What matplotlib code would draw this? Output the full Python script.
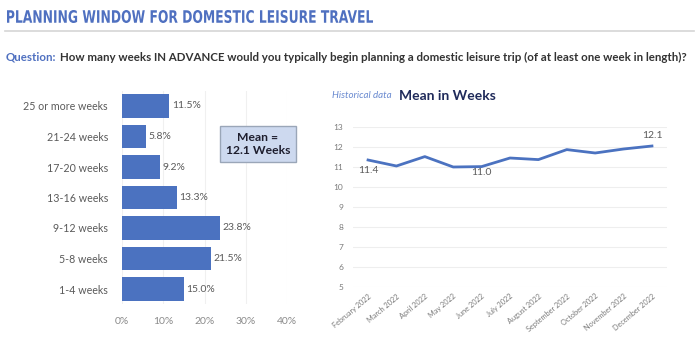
import matplotlib
matplotlib.use("Agg")
import matplotlib.pyplot as plt
from matplotlib.patches import Rectangle, PathPatch
from matplotlib.lines import Line2D
from matplotlib.textpath import TextPath
from matplotlib.font_manager import FontProperties
from matplotlib.transforms import Affine2D, IdentityTransform

# bar chart data
categories = ["1-4 weeks", "5-8 weeks", "9-12 weeks", "13-16 weeks",
              "17-20 weeks", "21-24 weeks", "25 or more weeks"]
shares = [15.0, 21.5, 23.8, 13.3, 9.2, 5.8, 11.5]

# historical mean data
months = ["February 2022", "March 2022", "April 2022", "May 2022", "June 2022",
          "July 2022", "August 2022", "September 2022", "October 2022",
          "November 2022", "December 2022"]
mean_weeks = [11.35, 11.05, 11.52, 11.0, 11.02, 11.45, 11.37, 11.87, 11.7, 11.9, 12.05]

blue = "#4b72c0"
grey = "#5a5a5a"
plt.rcParams["font.family"] = ["Lato", "DejaVu Sans"]

fig = plt.figure(figsize=(7, 3.51), dpi=100)
W, H = 700, 351

def fx(px):
    return px / W

def fy(py):
    return 1 - py / H

# title, squeezed horizontally to look like a condensed font
title = "PLANNING WINDOW FOR DOMESTIC LEISURE TRAVEL"
tp = TextPath((0, 0), title, size=18,
              prop=FontProperties(family="DejaVu Sans", weight="bold"))
ext = tp.get_extents()
sx = 366 / ext.width
sy = 13 / ext.height
tr = Affine2D().translate(-ext.x0, -ext.y0).scale(sx, sy).translate(7, H - 23)
fig.add_artist(PathPatch(tr.transform_path(tp), transform=IdentityTransform(),
                         facecolor="#4f70c0", edgecolor="none"))
fig.add_artist(Line2D([fx(5), fx(694)], [fy(30.5), fy(30.5)], color="#d5d5d5", lw=1.2))

# question line
q = fig.text(fx(6), fy(57), "Question:", fontsize=8.3, fontweight="bold",
             color="#4f70c0", va="center", ha="left")
fig.canvas.draw()
bb = q.get_window_extent()
fig.text((bb.x1 + 3) / W, fy(57),
         "How many weeks IN ADVANCE would you typically begin planning a domestic leisure trip (of at least one week in length)?",
         fontsize=8.3, fontweight="bold", color="#333333", va="center", ha="left")

# bar chart
ax1 = fig.add_axes([fx(122), fy(304.25), fx(165), 213.5 / H])
ypos = range(len(categories))
ax1.barh(ypos, shares, height=0.78, color=blue, zorder=2)
for y, v in zip(ypos, shares):
    ax1.text(v + 0.6, y, f"{v:.1f}%", va="center", ha="left", fontsize=7.5, color=grey)
ax1.set_xlim(0, 40)
ax1.set_ylim(-0.5, len(categories) - 0.5)
ax1.set_yticks(list(ypos))
ax1.set_yticklabels(categories, fontsize=7.7, color=grey)
ax1.set_xticks([0, 10, 20, 30, 40])
ax1.set_xticklabels(["0%", "10%", "20%", "30%", "40%"], fontsize=7.5, color="#8a8a8a")
ax1.tick_params(length=0)
ax1.tick_params(axis="x", pad=9)
ax1.tick_params(axis="y", pad=10)
ax1.grid(axis="x", color="#f0f0f0", lw=0.8, zorder=0)
for s in ax1.spines.values():
    s.set_visible(False)

# mean box
fig.add_artist(Rectangle((fx(220), fy(162)), fx(76), 36 / H, facecolor="#cdd9ef",
                         edgecolor="#9aa6b8", lw=1.0))
fig.text(fx(258), fy(144), "Mean =\n12.1 Weeks", ha="center", va="center",
         fontsize=8.7, fontweight="bold", color="#1e1e2e", linespacing=1.3)

# line chart
fig.text(fx(332), fy(96), "Historical data", fontsize=7, style="italic",
         color="#6a8ad0", va="center", ha="left")
fig.text(fx(399), fy(96), "Mean in Weeks", fontsize=10, fontweight="bold",
         color="#1f2a5a", va="center", ha="left")

ax2 = fig.add_axes([fx(353), fy(287), fx(314), 160 / H])
x = list(range(len(months)))
ax2.plot(x, mean_weeks, color=blue, lw=2, zorder=3)
ax2.set_xlim(-0.53, len(months) - 0.47)
ax2.set_ylim(5, 13)
ax2.set_yticks(range(5, 14))
ax2.set_yticklabels([str(v) for v in range(5, 14)], fontsize=6, color="#7a7a7a")
ax2.set_xticks(x)
ax2.set_xticklabels(months, rotation=40, ha="right", rotation_mode="anchor",
                    fontsize=5.3, color="#7a7a7a")
ax2.tick_params(length=0)
ax2.tick_params(axis="y", pad=7)
ax2.tick_params(axis="x", pad=4)
ax2.grid(axis="y", color="#eeeeee", lw=0.8, zorder=0)
for s in ax2.spines.values():
    s.set_visible(False)
ax2.text(x[0], mean_weeks[0] - 0.3, "11.4", ha="center", va="top", fontsize=7.5, color=grey)
ax2.text(x[4], mean_weeks[4] - 0.05, "11.0", ha="center", va="top", fontsize=7.5, color=grey)
ax2.text(x[-1], mean_weeks[-1] + 0.3, "12.1", ha="center", va="bottom", fontsize=7.5, color=grey)

fig.savefig("out.png", dpi=100)
